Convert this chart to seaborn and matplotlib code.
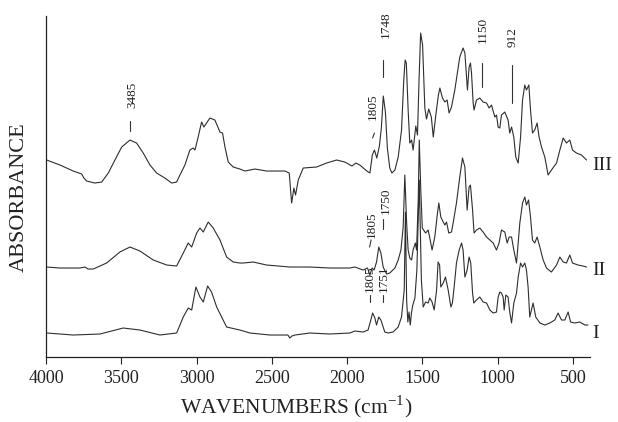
import numpy as np
import pandas as pd
import matplotlib
matplotlib.use('Agg')
import matplotlib.pyplot as plt
import seaborn as sns

# ---- Spectrum III (top trace, values include vertical offset) ----
wn_III = [3995, 3907, 3819, 3763, 3748, 3730, 3675, 3630, 3586, 3542, 3497, 3442, 3398, 3354,
          3309, 3265, 3210, 3165, 3132, 3110, 3077, 3044, 3022, 3010, 2989, 2966, 2951, 2933,
          2911, 2878, 2844, 2827, 2811, 2789, 2756, 2712, 2678, 2612, 2534, 2413, 2384, 2368,
          2353, 2342, 2324, 2291, 2202, 2136, 2069, 2014, 1968, 1941, 1915, 1891, 1868, 1848,
          1832, 1818, 1802, 1785, 1772, 1759, 1745, 1732, 1716, 1702, 1682, 1660, 1638, 1623,
          1614, 1606, 1594, 1583, 1571, 1561, 1543, 1532, 1521, 1511, 1498, 1483, 1472, 1457,
          1440, 1427, 1410, 1393, 1383, 1366, 1350, 1335, 1322, 1306, 1284, 1251, 1229, 1217,
          1206, 1200, 1189, 1180, 1173, 1162, 1156, 1140, 1118, 1096, 1073, 1056, 1040, 1018,
          1007, 996, 985, 974, 952, 930, 919, 907, 892, 879, 863, 847, 834, 819, 808, 792, 781,
          768, 753, 737, 724, 708, 686, 664, 642, 608, 586, 564, 542, 520, 502, 476, 442, 409]
abs_III = [2.00, 1.95, 1.89, 1.86, 1.82, 1.79, 1.77, 1.78, 1.87, 2.00, 2.13, 2.20, 2.17, 2.07,
           1.95, 1.87, 1.82, 1.77, 1.78, 1.85, 1.95, 2.10, 2.12, 2.10, 2.23, 2.38, 2.33, 2.37,
           2.42, 2.40, 2.28, 2.27, 2.13, 1.98, 1.93, 1.91, 1.89, 1.91, 1.89, 1.89, 1.87, 1.57,
           1.72, 1.65, 1.80, 1.92, 1.93, 1.97, 2.00, 1.98, 1.94, 1.97, 1.95, 1.92, 1.89, 1.87,
           2.05, 2.10, 2.02, 2.14, 2.32, 2.64, 2.48, 2.12, 1.92, 1.87, 1.90, 2.03, 2.30, 2.80,
           3.00, 2.97, 2.50, 2.17, 2.20, 2.10, 2.34, 2.25, 2.83, 3.27, 3.15, 2.52, 2.41, 2.51,
           2.43, 2.23, 2.45, 2.65, 2.72, 2.62, 2.58, 2.60, 2.47, 2.53, 2.70, 3.03, 3.12, 3.07,
           2.83, 2.70, 2.93, 2.97, 2.87, 2.57, 2.50, 2.60, 2.62, 2.58, 2.57, 2.52, 2.55, 2.43,
           2.45, 2.33, 2.32, 2.45, 2.48, 2.40, 2.27, 2.33, 2.23, 2.03, 1.97, 2.23, 2.60, 2.75,
           2.70, 2.75, 2.50, 2.27, 2.30, 2.37, 2.23, 2.13, 2.03, 1.85, 1.90, 1.97, 2.10, 2.22,
           2.17, 2.20, 2.10, 2.07, 2.05, 2.00]

# ---- Spectrum II (middle trace) ----
wn_II = [3995, 3907, 3774, 3741, 3721, 3686, 3597, 3509, 3442, 3376, 3287, 3198, 3132, 3088,
         3055, 3032, 2999, 2977, 2955, 2922, 2889, 2844, 2800, 2756, 2712, 2690, 2623, 2534,
         2380, 2247, 2114, 1981, 1948, 1893, 1864, 1848, 1833, 1820, 1804, 1789, 1775, 1760,
         1737, 1716, 1682, 1660, 1642, 1627, 1616, 1604, 1594, 1583, 1571, 1561, 1546, 1538,
         1527, 1520, 1510, 1500, 1478, 1461, 1450, 1435, 1417, 1399, 1390, 1377, 1361, 1350,
         1339, 1324, 1306, 1295, 1273, 1251, 1233, 1217, 1202, 1189, 1180, 1166, 1156, 1140,
         1118, 1096, 1073, 1051, 1029, 1007, 990, 974, 952, 936, 923, 907, 892, 874, 852, 834,
         819, 808, 794, 781, 768, 753, 737, 719, 697, 675, 642, 608, 586, 564, 542, 520, 502,
         465, 432, 409]
abs_II = [0.93, 0.92, 0.92, 0.93, 0.91, 0.91, 0.97, 1.08, 1.13, 1.09, 1.00, 0.95, 0.94, 1.07,
          1.17, 1.13, 1.27, 1.32, 1.28, 1.38, 1.32, 1.20, 1.03, 0.98, 0.97, 0.97, 0.98, 0.95,
          0.93, 0.93, 0.92, 0.92, 0.93, 0.90, 0.92, 0.85, 0.92, 0.90, 0.98, 1.13, 1.07, 0.93,
          0.86, 0.87, 0.92, 1.00, 1.10, 1.33, 1.85, 1.37, 1.10, 1.02, 1.00, 1.10, 1.17, 1.10,
          1.60, 2.20, 1.70, 1.32, 1.27, 1.30, 1.22, 1.10, 1.23, 1.47, 1.57, 1.43, 1.38, 1.35,
          1.38, 1.27, 1.28, 1.37, 1.57, 1.83, 2.02, 1.93, 1.50, 1.73, 1.75, 1.50, 1.27, 1.30,
          1.32, 1.28, 1.23, 1.20, 1.17, 1.10, 1.17, 1.30, 1.28, 1.17, 1.23, 1.23, 1.10, 0.97,
          1.37, 1.57, 1.63, 1.55, 1.60, 1.43, 1.20, 1.17, 1.23, 1.13, 1.00, 0.92, 0.88, 0.95,
          1.03, 0.98, 0.97, 1.05, 0.97, 0.95, 0.94, 0.93]

# ---- Spectrum I (bottom trace) ----
wn_I = [3995, 3819, 3641, 3487, 3376, 3243, 3132, 3088, 3055, 3032, 3004, 2977, 2955, 2926,
        2900, 2866, 2833, 2800, 2712, 2645, 2512, 2393, 2380, 2366, 2346, 2247, 2114, 1981,
        1948, 1893, 1860, 1842, 1830, 1815, 1804, 1789, 1775, 1749, 1727, 1694, 1660, 1638,
        1620, 1612, 1604, 1596, 1588, 1580, 1572, 1563, 1549, 1536, 1520, 1506, 1494, 1478,
        1461, 1450, 1435, 1421, 1405, 1395, 1385, 1377, 1361, 1346, 1328, 1310, 1300, 1287,
        1273, 1255, 1239, 1229, 1217, 1202, 1189, 1178, 1166, 1158, 1140, 1118, 1096, 1073,
        1051, 1029, 1007, 996, 985, 974, 963, 956, 945, 930, 919, 907, 892, 874, 863, 847,
        834, 819, 808, 797, 786, 775, 764, 746, 719, 686, 653, 620, 598, 575, 553, 531, 515,
        487, 454, 420, 399]
abs_I = [0.27, 0.25, 0.26, 0.32, 0.30, 0.25, 0.27, 0.43, 0.52, 0.50, 0.73, 0.63, 0.58, 0.74,
         0.68, 0.53, 0.43, 0.33, 0.30, 0.27, 0.25, 0.25, 0.22, 0.24, 0.25, 0.27, 0.26, 0.27,
         0.29, 0.28, 0.30, 0.40, 0.47, 0.42, 0.35, 0.43, 0.40, 0.28, 0.27, 0.28, 0.33, 0.43,
         0.70, 1.48, 0.60, 0.38, 0.48, 0.35, 0.47, 0.55, 0.62, 0.90, 1.80, 0.80, 0.53, 0.58,
         0.57, 0.62, 0.58, 0.50, 0.70, 0.98, 0.95, 0.73, 0.77, 0.83, 0.70, 0.53, 0.57, 0.75,
         0.97, 1.10, 1.17, 1.10, 0.83, 0.90, 1.03, 0.97, 0.67, 0.57, 0.60, 0.63, 0.58, 0.57,
         0.50, 0.47, 0.48, 0.63, 0.68, 0.67, 0.63, 0.50, 0.65, 0.63, 0.48, 0.37, 0.57, 0.67,
         0.83, 0.97, 0.93, 0.97, 0.90, 0.73, 0.43, 0.50, 0.57, 0.43, 0.37, 0.35, 0.37, 0.40,
         0.47, 0.40, 0.40, 0.48, 0.38, 0.37, 0.38, 0.35, 0.35]

# ---- Peak annotations ----
ann_labels = ['3485', '1748', '1805', '1150', '912', '1805', '1750', '1805', '1751']
ann_text_x = [3425, 1740, 1830, 1100, 900, 1838, 1740, 1850, 1755]
ann_text_y = [2.52, 3.22, 2.40, 3.17, 3.13, 1.22, 1.46, 0.68, 0.68]
ann_mark_x0 = [3442, 1762, 1830, 1103, 901, 1850, 1760, 1850, 1758]
ann_mark_x1 = [3442, 1762, 1818, 1103, 901, 1840, 1760, 1850, 1758]
ann_mark_y0 = [2.29, 2.83, 2.22, 2.73, 2.57, 1.13, 1.31, 0.58, 0.58]
ann_mark_y1 = [2.39, 3.00, 2.27, 2.97, 2.95, 1.20, 1.41, 0.65, 0.65]

trace_names = ['III', 'II', 'I']
trace_label_y = [1.95, 0.90, 0.27]

sns.set_style('white')
plt.rcParams['font.family'] = ['Liberation Serif', 'DejaVu Serif']
plt.rcParams['mathtext.fontset'] = 'custom'
plt.rcParams['mathtext.rm'] = 'Liberation Serif'

df = pd.concat([
    pd.DataFrame({'wn': wn_III, 'A': abs_III, 'trace': 'III'}),
    pd.DataFrame({'wn': wn_II, 'A': abs_II, 'trace': 'II'}),
    pd.DataFrame({'wn': wn_I, 'A': abs_I, 'trace': 'I'}),
], ignore_index=True)

fig = plt.figure(figsize=(6.18, 4.22), dpi=100)
ax = fig.add_axes([0.0744, 0.154, 0.880, 0.808])
line_col = '#2e2e2e'
sns.lineplot(data=df, x='wn', y='A', hue='trace', estimator=None, sort=False,
             palette={'III': line_col, 'II': line_col, 'I': line_col},
             linewidth=0.8, legend=False, ax=ax)

ax.set_xlim(4000, 387)
ax.set_ylim(0.03, 3.44)
ax.set_xticks([4000, 3500, 3000, 2500, 2000, 1500, 1000, 500])
ax.set_yticks([])
ax.tick_params(axis='x', direction='out', length=5, width=0.8, colors='#222222',
               labelsize=13, pad=4, bottom=True)
for s in ['top', 'right']:
    ax.spines[s].set_visible(False)
for s in ['left', 'bottom']:
    ax.spines[s].set_color('#222222')
    ax.spines[s].set_linewidth(0.9)

ax.set_xlabel(r'WAVENUMBERS (cm$^{\mathrm{-1}}$)', fontsize=15.5, color='#222222')
ax.xaxis.set_label_coords(0.46, -0.108)
ax.set_ylabel('ABSORBANCE', fontsize=16, color='#222222')
ax.yaxis.set_label_coords(-0.032, 0.47)

for lab, tx, ty, x0, x1, y0, y1 in zip(ann_labels, ann_text_x, ann_text_y,
                                        ann_mark_x0, ann_mark_x1, ann_mark_y0, ann_mark_y1):
    ax.text(tx, ty, lab, rotation=90, ha='center', va='bottom', fontsize=9.5,
            color='#222222', clip_on=False)
    ax.plot([x0, x1], [y0, y1], color='#333333', lw=0.8, clip_on=False)

for name, ly in zip(trace_names, trace_label_y):
    ax.text(372, ly, name, ha='left', va='center', fontsize=14, color='#222222',
            clip_on=False)

fig.savefig('out.png', dpi=100)
